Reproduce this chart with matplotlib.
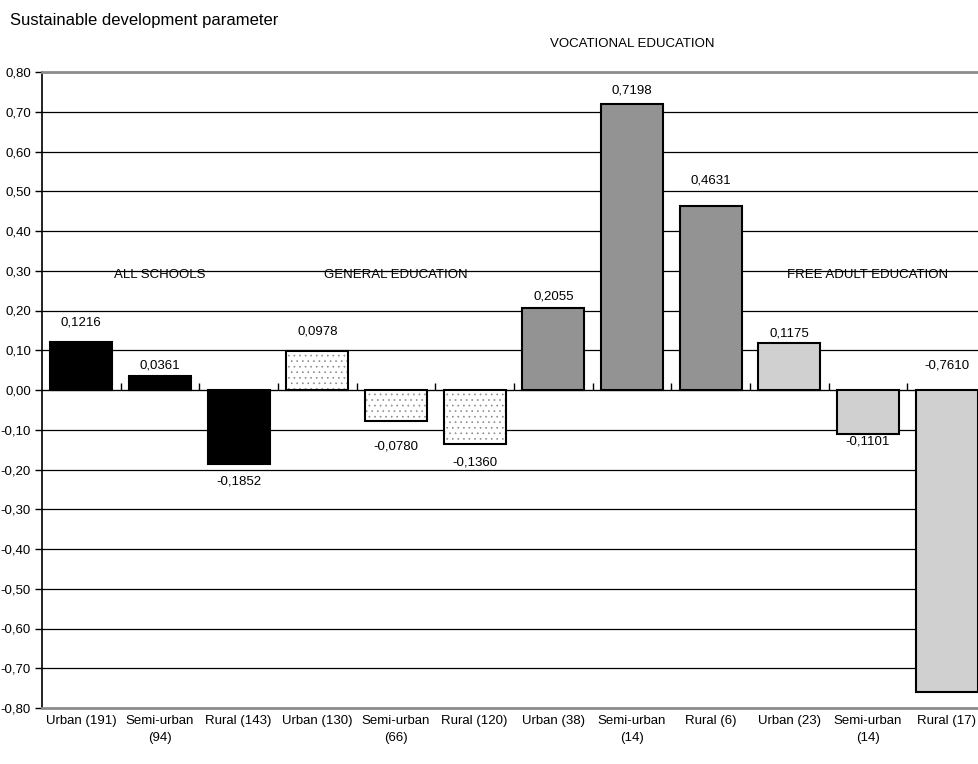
import matplotlib
matplotlib.use("Agg")
import matplotlib.pyplot as plt
import matplotlib.hatch
from matplotlib.ticker import FuncFormatter, MultipleLocator
from matplotlib import font_manager

names = {f.name for f in font_manager.fontManager.ttflist}
fam = ["Liberation Sans Narrow"] if "Liberation Sans Narrow" in names else ["Liberation Sans"]
plt.rcParams["font.family"] = fam + ["DejaVu Sans"]
plt.rcParams["hatch.linewidth"] = 0.9
# finer dots for the stippled pattern
matplotlib.hatch.SmallFilledCircles.size = 0.025

# data
categories = ["Urban (191)", "Semi-urban\n(94)", "Rural (143)",
              "Urban (130)", "Semi-urban\n(66)", "Rural (120)",
              "Urban (38)", "Semi-urban\n(14)", "Rural (6)",
              "Urban (23)", "Semi-urban\n(14)", "Rural (17)"]
values = [0.1216, 0.0361, -0.1852,
          0.0978, -0.0780, -0.1360,
          0.2055, 0.7198, 0.4631,
          0.1175, -0.1101, -0.7610]
groups = ["ALL SCHOOLS", "GENERAL EDUCATION", "VOCATIONAL EDUCATION", "FREE ADULT EDUCATION"]

# styles
group_colors = ["#000000", "#ffffff", "#939393", "#d0d0d0"]
group_hatch = [None, "...", None, None]
label_offsets = [19, 10, 18, 20, 25, 18, 12, 13, 25, 10, 8, 24]  # pixels

fig = plt.figure(figsize=(9.79, 7.64), dpi=100)
ax = fig.add_axes([42 / 979, 1 - 708 / 764, 944 / 979, (708 - 72) / 764])

ymin, ymax = -0.8, 0.8
x = list(range(len(values)))
for i, v in enumerate(values):
    g = i // 3
    ax.bar(i, v, width=0.79, color=group_colors[g], edgecolor="black",
           linewidth=1.5, hatch=group_hatch[g], zorder=3)
    txt = f"{v:.4f}".replace(".", ",")
    if v < ymin + 0.1:
        # no room below the bar: label goes above the zero line
        ax.annotate(txt, (i, 0), xytext=(0, label_offsets[i]),
                    textcoords="offset pixels", ha="center", va="center", fontsize=9.5)
    else:
        sign = 1 if v >= 0 else -1
        ax.annotate(txt, (i, v), xytext=(0, sign * label_offsets[i]),
                    textcoords="offset pixels", ha="center", va="center", fontsize=9.5)

ax.set_xlim(-0.5, len(values) - 0.5)
ax.set_ylim(ymin, ymax)
ax.yaxis.set_major_locator(MultipleLocator(0.1))
ax.yaxis.set_major_formatter(FuncFormatter(lambda v, p: f"{v:.2f}".replace(".", ",").replace("-0,00", "0,00")))
ax.grid(axis="y", color="black", linewidth=0.9, zorder=0)
ax.set_axisbelow(True)

ax.set_xticks(x)
ax.set_xticklabels(categories, fontsize=9.5, linespacing=1.55)
ax.tick_params(axis="x", length=0, pad=5)
ax.tick_params(axis="y", length=5, width=1, labelsize=9.5, pad=3)

for s in ["top", "bottom"]:
    ax.spines[s].set_color("#8c8c8c")
    ax.spines[s].set_linewidth(2)
ax.spines["right"].set_visible(False)
ax.spines["left"].set_linewidth(1.2)

# category axis crossing at zero with boundary ticks
sec = ax.secondary_xaxis(0.5)
sec.set_xticks([i + 0.5 for i in range(len(values) - 1)])
sec.set_xticklabels([])
sec.tick_params(axis="x", length=5, width=1, direction="out")
sec.spines["bottom"].set_linewidth(1.2)
sec.spines["bottom"].set_color("black")

# group titles
ax.text(1, 0.29, groups[0], ha="center", va="center", fontsize=9.5)
ax.text(4, 0.29, groups[1], ha="center", va="center", fontsize=9.5)
ax.text(7, 0.87, groups[2], ha="center", va="center", fontsize=9.5, clip_on=False)
ax.text(10, 0.29, groups[3], ha="center", va="center", fontsize=9.5)

fig.text(10 / 979, 1 - 20 / 764, "Sustainable development parameter", ha="left", va="center", fontsize=12)

fig.savefig("out.png", dpi=100)
